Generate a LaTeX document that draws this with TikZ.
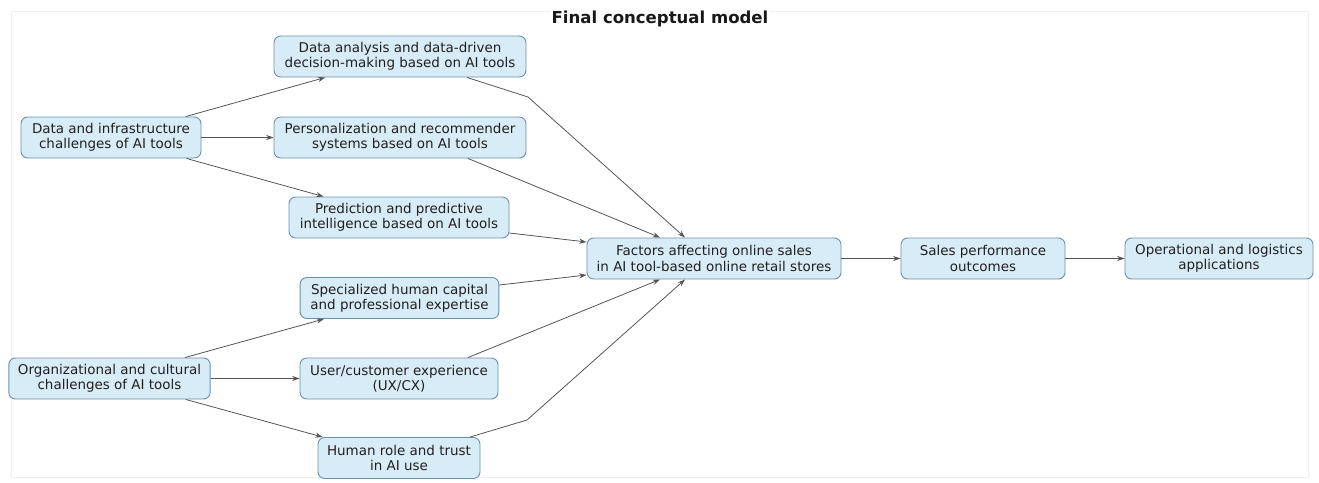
\documentclass[tikz,border=0pt]{standalone}
\usepackage{fontspec}
\setmainfont{DejaVu Sans}
\usepackage{xcolor}
\usepackage{tikz}
\usetikzlibrary{arrows.meta, calc}

\definecolor{boxfill}{RGB}{216,236,247}
\definecolor{boxline}{RGB}{105,145,172}
\definecolor{edgecol}{RGB}{85,85,85}
\definecolor{framecol}{RGB}{240,240,240}

\tikzset{
  box/.style={draw=boxline, fill=boxfill, line width=0.7pt, rounded corners=5pt, align=center,
    inner sep=0pt, minimum height=30.75pt, text=black!88,
    font=\fontsize{10.1}{11.4}\selectfont},
  arr/.style={-{Stealth[length=5.5pt, width=3.8pt]}, draw=edgecol, line width=0.6pt},
}

\begin{document}
\begin{tikzpicture}[x=0.75pt, y=-0.75pt]
  \useasboundingbox (0,0) rectangle (1319,482);

  % Outer frame and title
  \draw[framecol] (11,11) rectangle (1308,477);
  \node[fill=white, inner sep=1pt, font=\bfseries\fontsize{12.4}{14}\selectfont, text=black!90] (title) at (660,19) {Final conceptual model};

  % Left column: challenges
  \node[box, minimum width=135pt] (infra) at (111,137.5) {Data and infrastructure\\challenges of AI tools};
  \node[box, minimum width=151pt] (orgcult) at (109.5,378.5) {Organizational and cultural\\challenges of AI tools};

  % Middle column: AI tool dimensions
  \node[box, minimum width=189pt] (analysis) at (400,56.5) {Data analysis and data-driven\\decision-making based on AI tools};
  \node[box, minimum width=189pt] (person) at (400,137.5) {Personalization and recommender\\systems based on AI tools};
  \node[box, minimum width=165pt] (predict) at (399,217.5) {Prediction and predictive\\intelligence based on AI tools};
  \node[box, minimum width=149pt] (human) at (399.5,298) {Specialized human capital\\and professional expertise};
  \node[box, minimum width=148.5pt] (uxcx) at (399,378.5) {User/customer experience\\(UX/CX)};
  \node[box, minimum width=121.5pt] (trust) at (399,458) {Human role and trust\\in AI use};

  % Right chain
  \node[box, minimum width=190.5pt] (factors) at (714,258.5) {Factors affecting online sales\\in AI tool-based online retail stores};
  \node[box, minimum width=123pt] (salesperf) at (983,258.5) {Sales performance\\outcomes};
  \node[box, minimum width=141pt] (oplog) at (1219,258.5) {Operational and logistics\\applications};

  % Bend points
  \coordinate (bendA) at (528,97);
  \coordinate (bendT) at (527,420);

  % Challenges -> dimensions
  \draw[arr] (infra) -- (analysis);
  \draw[arr] (infra) -- (person);
  \draw[arr] (infra) -- (predict);
  \draw[arr] (orgcult) -- (human);
  \draw[arr] (orgcult) -- (uxcx);
  \draw[arr] (orgcult) -- (trust);

  % Dimensions -> factors
  \draw[arr] ($(analysis.south)+(67,0)$) -- (bendA) -- ($(factors.north)+(-29,0)$);
  \draw[arr] ($(person.south)+(68,0)$) -- ($(factors.north)+(-54,0)$);
  \draw[arr] ($(predict.east)+(0,15.5)$) -- ($(factors.west)+(0,-16.5)$);
  \draw[arr] ($(human.east)+(0,-13)$) -- ($(factors.west)+(0,16.5)$);
  \draw[arr] ($(uxcx.north)+(69,0)$) -- ($(factors.south)+(-54,0)$);
  \draw[arr] ($(trust.north)+(71,0)$) -- (bendT) -- ($(factors.south)+(-29,0)$);

  % Outcomes
  \draw[arr] (factors) -- (salesperf);
  \draw[arr] (salesperf) -- (oplog);
\end{tikzpicture}
\end{document}
